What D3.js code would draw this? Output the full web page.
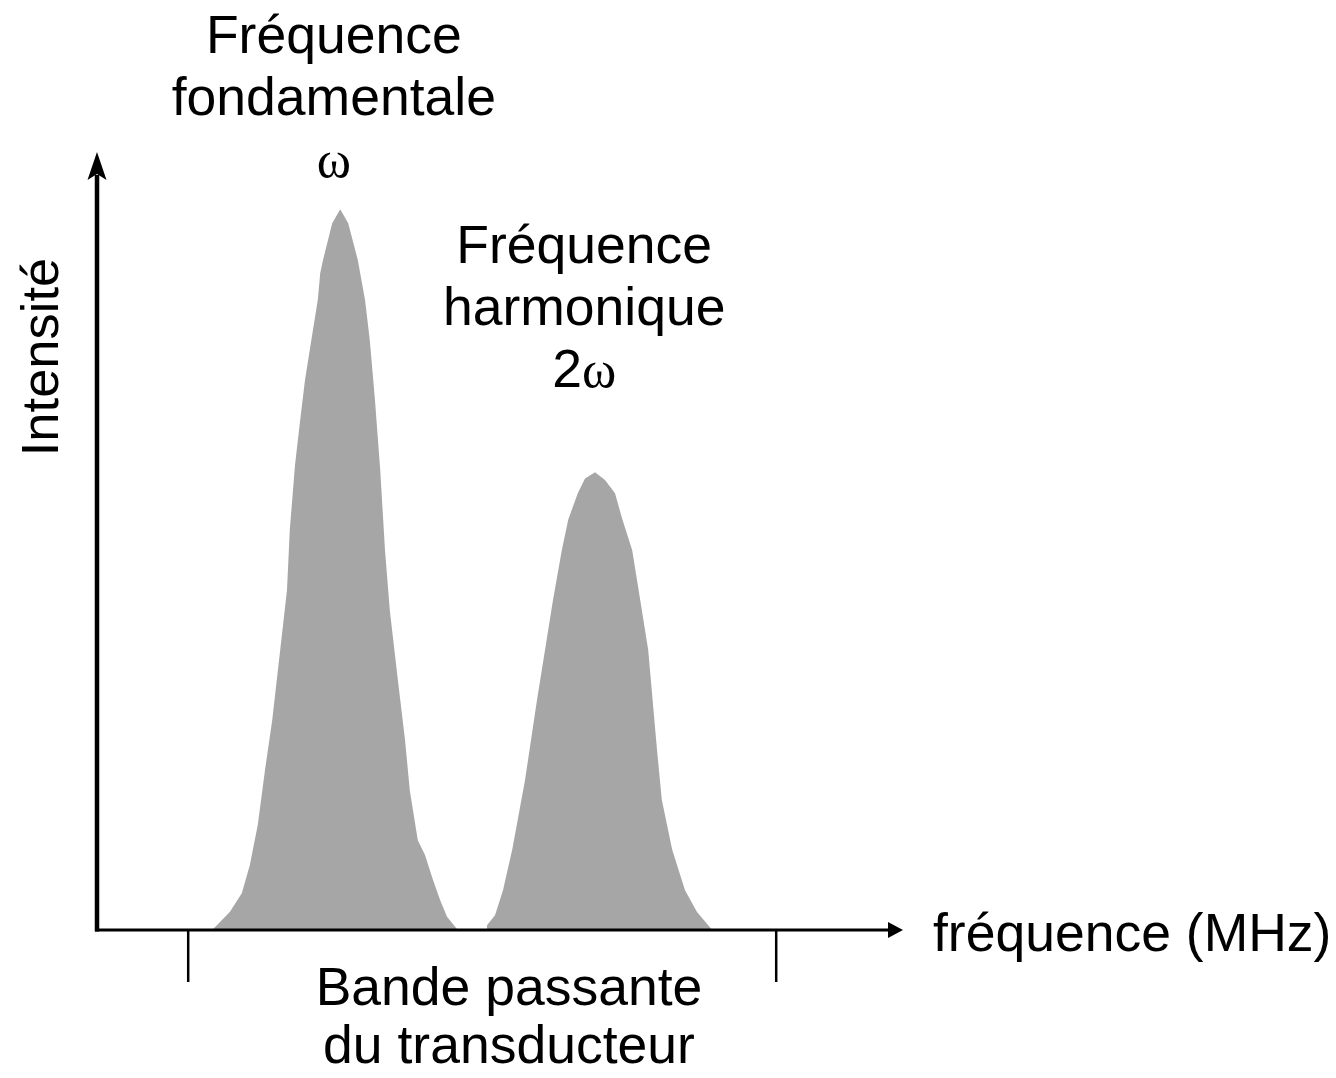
<!DOCTYPE html>
<html>
<head>
<meta charset="utf-8">
<script src="https://cdn.jsdelivr.net/npm/d3@7"></script>
<style>
  body { margin: 0; background: #fff; }
  text { font-family: "Liberation Sans", Arial, Helvetica, sans-serif; fill: #000; }
  .omega { font-family: "Liberation Serif", "Times New Roman", serif; }
</style>
</head>
<body>
<div id="chart"></div>
<script>
// ---- data (frequency in arbitrary units, intensity in % of axis height)
var fundFreq = [14.4, 16.6, 18.1, 19.1, 20.1, 21.0, 21.9, 22.9, 23.75, 24.1, 24.75, 25.4, 26.0, 26.6,
                27.6, 27.9, 28.25, 29.4, 30.4, 31.4, 32.6, 33.5, 34.1, 34.75, 35.4, 36.0, 36.6,
                37.6, 38.5, 39.1, 40.1, 41.0, 42.0, 42.9, 43.75, 45.1];
var fundInt  = [0, 2.3, 4.7, 8.3, 13.5, 20.5, 26.9, 35.9, 43.6, 51.3, 59.6, 65.4, 70.5, 74.4,
                80.8, 84.2, 85.9, 90.6, 92.4, 90.6, 85.9, 80.8, 75.6, 67.9, 59.0, 48.7, 41.0,
                32.1, 24.4, 17.9, 11.5, 9.6, 6.4, 3.8, 1.7, 0];

var harmFreq = [48.75, 49.75, 50.75, 51.9, 53.5, 55.0, 56.0, 57.0, 58.1, 58.9, 60.1, 61.0, 62.25,
                63.5, 64.75, 65.6, 66.9, 67.9, 68.9, 70.0, 70.6, 71.9, 73.5, 75.0, 76.9];
var harmInt  = [0.6, 1.9, 5.1, 10.3, 19.2, 29.5, 35.9, 42.3, 48.7, 52.6, 56.0, 57.9, 58.7,
                57.7, 56.0, 52.9, 48.7, 42.3, 35.9, 23.1, 16.7, 10.3, 5.1, 2.3, 0];

var bandEdges = [11.4, 84.9];   // transducer bandwidth limits
var bandLabel = ["Bande passante", "du transducteur"];

var peakLabels = [
  {f: 29.6, lines: ["Fréquence", "fondamentale"], sym: "ω",  base: 96.5},
  {f: 60.9, lines: ["Fréquence", "harmonique"],   sym: "2ω", base: 69.6}
];

// ---- layout
var W = 1336, H = 1078;
var svg = d3.select("#chart").append("svg")
    .attr("width", W).attr("height", H);

var x = d3.scaleLinear().domain([0, 100]).range([97, 897]);
var y = d3.scaleLinear().domain([0, 100]).range([930, 150]);

var area = d3.area()
    .x(d => x(d[0]))
    .y0(y(0))
    .y1(d => y(d[1]));

// peaks
[[fundFreq, fundInt], [harmFreq, harmInt]].forEach(function(s) {
  svg.append("path")
    .datum(d3.zip(s[0], s[1]))
    .attr("d", area)
    .attr("fill", "#a6a6a6");
});

// axes
svg.append("line")
  .attr("x1", x(0) - 2).attr("x2", x(100) - 6)
  .attr("y1", y(0)).attr("y2", y(0))
  .attr("stroke", "#000").attr("stroke-width", 3);

svg.append("line")
  .attr("x1", x(0)).attr("x2", x(0))
  .attr("y1", y(0) + 1.5).attr("y2", y(100) + 25)
  .attr("stroke", "#000").attr("stroke-width", 4.5);

// x arrowhead
var xa = x(100) + 6, ya = y(0);
svg.append("path")
  .attr("d", "M" + (xa - 15) + "," + (ya - 8) + "L" + xa + "," + ya + "L" + (xa - 15) + "," + (ya + 8) + "Z")
  .attr("fill", "#000");

// y arrowhead
var xb = x(0), yb = y(100) + 2;
svg.append("path")
  .attr("d", "M" + xb + "," + yb + "L" + (xb + 9.5) + "," + (yb + 28) +
             "L" + xb + "," + (yb + 22) + "L" + (xb - 9.5) + "," + (yb + 28) + "Z")
  .attr("fill", "#000");

// bandwidth ticks
svg.selectAll(".band").data(bandEdges).enter().append("line")
  .attr("x1", d => x(d)).attr("x2", d => x(d))
  .attr("y1", y(0)).attr("y2", y(0) + 52)
  .attr("stroke", "#000").attr("stroke-width", 2.5);

// peak labels
var fs = 53.5, lh = 62;
peakLabels.forEach(function(p) {
  var top = y(p.base) - 2 * lh;
  p.lines.forEach(function(t, i) {
    svg.append("text")
      .attr("x", x(p.f)).attr("y", top + i * lh)
      .attr("text-anchor", "middle")
      .style("font-size", fs + "px")
      .text(t);
  });
  var sym = svg.append("text")
    .attr("x", x(p.f)).attr("y", top + 2 * lh)
    .attr("text-anchor", "middle")
    .style("font-size", fs + "px");
  if (p.sym.length > 1) {
    sym.append("tspan").text(p.sym.slice(0, -1));
  }
  sym.append("tspan").attr("class", "omega").style("font-size", "52px").text("ω");
});

// axis titles
svg.append("text")
  .attr("transform", "translate(58,357) rotate(-90)")
  .attr("text-anchor", "middle")
  .style("font-size", "52.5px")
  .text("Intensité");

svg.append("text")
  .attr("x", 933).attr("y", 951)
  .style("font-size", fs + "px")
  .text("fréquence (MHz)");

bandLabel.forEach(function(t, i) {
  svg.append("text")
    .attr("x", x(51.5)).attr("y", 1005 + i * 58)
    .attr("text-anchor", "middle")
    .style("font-size", fs + "px")
    .text(t);
});
</script>
</body>
</html>
